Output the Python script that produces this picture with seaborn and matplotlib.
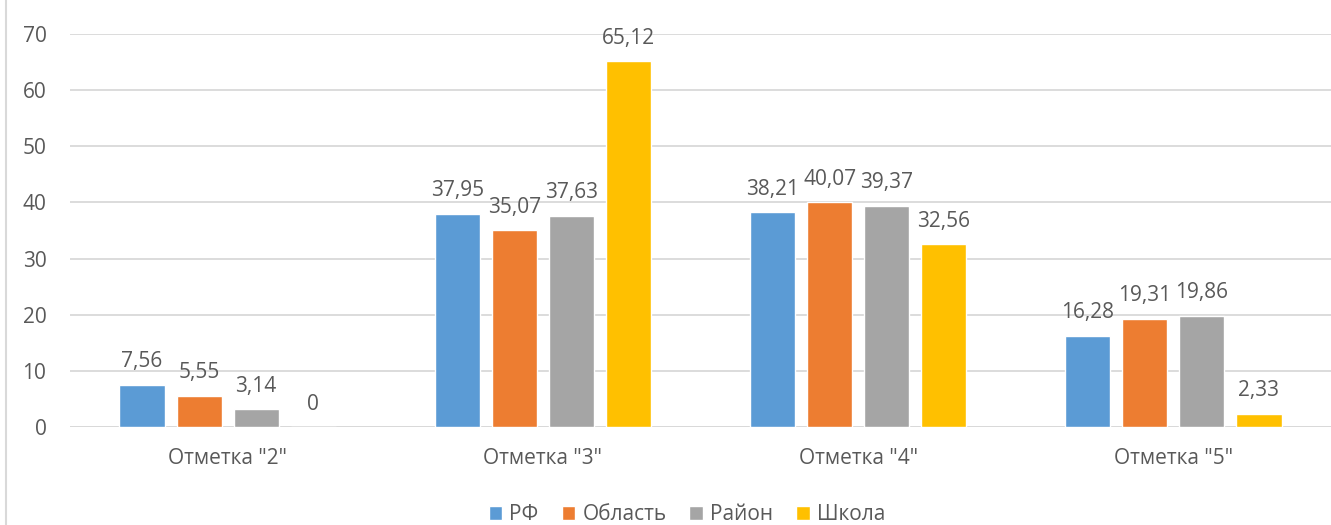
import matplotlib
matplotlib.use("Agg")
import matplotlib.pyplot as plt
from matplotlib.lines import Line2D
import seaborn as sns
import pandas as pd

# данные с диаграммы
categories = ['Отметка "2"', 'Отметка "3"', 'Отметка "4"', 'Отметка "5"']
series = ["РФ", "Область", "Район", "Школа"]
rf = [7.56, 37.95, 38.21, 16.28]
oblast = [5.55, 35.07, 40.07, 19.31]
rayon = [3.14, 37.63, 39.37, 19.86]
shkola = [0, 65.12, 32.56, 2.33]
colors = ["#5B9BD5", "#ED7D31", "#A5A5A5", "#FFC000"]

rows = []
for name, vals in zip(series, [rf, oblast, rayon, shkola]):
    for cat, v in zip(categories, vals):
        rows.append({"cat": cat, "series": name, "value": v})
df = pd.DataFrame(rows)

sns.set_theme(style="white")
plt.rcParams["font.family"] = ["Open Sans", "DejaVu Sans"]
text_color = "#595959"
fs = 15

fig = plt.figure(figsize=(13.31, 5.25), dpi=100)
# область построения уходит за правый край, как на исходной картинке
ax = fig.add_axes([70 / 1331, 1 - 427 / 525, 1261 / 1331, 393 / 525])

sns.barplot(data=df, x="cat", y="value", hue="series", order=categories,
            hue_order=series, palette=colors, width=0.724, gap=0.21,
            saturation=1, ax=ax, legend=True)

ax.set_ylim(0, 70)
ax.set_xlim(-0.5, 3.5)
ax.set_yticks(range(0, 71, 10))
ax.yaxis.grid(True, color="#D9D9D9", linewidth=1.3)
ax.set_axisbelow(True)
for s in ax.spines.values():
    s.set_visible(False)
ax.axhline(0, color="#D9D9D9", linewidth=1.3, zorder=0)
ax.set_xlabel("")
ax.set_ylabel("")
ax.tick_params(axis="both", length=0, labelsize=fs, colors=text_color)
ax.tick_params(axis="y", pad=17)
ax.tick_params(axis="x", pad=15)

# подписи значений
for cont, vals in zip(ax.containers, [rf, oblast, rayon, shkola]):
    labels = [f"{v:g}".replace(".", ",") for v in vals]
    ax.bar_label(cont, labels=labels, padding=9, fontsize=fs, color=text_color)

leg = ax.legend(loc="center", bbox_to_anchor=(687 / 1331, 10 / 525),
                bbox_transform=fig.transFigure, ncol=4, frameon=False,
                fontsize=fs, handlelength=0.65, handleheight=0.65, handletextpad=0.35,
                columnspacing=1.1, labelcolor=text_color)

# левая граница области диаграммы
fig.add_artist(Line2D([6 / 1331, 6 / 1331], [0, 1], transform=fig.transFigure,
                      color="#D9D9D9", linewidth=1.5))

fig.savefig("out.png", dpi=100)
